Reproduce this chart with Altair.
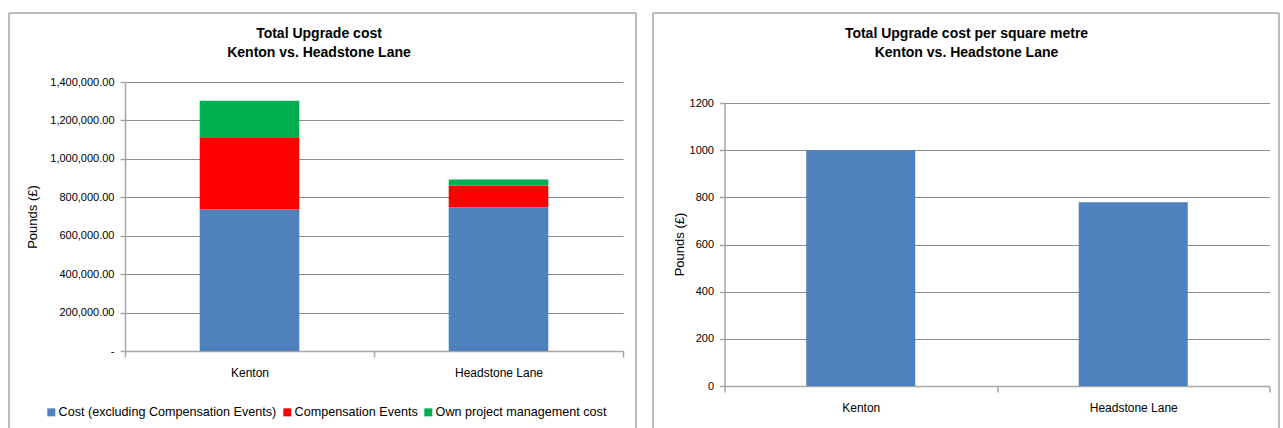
import altair as alt
import pandas as pd

# ---- data ----
sites = ["Kenton", "Headstone Lane"]
series_names = ["Cost (excluding Compensation Events)", "Compensation Events", "Own project management cost"]
cost_excl = [736000, 748000]
comp_events = [377000, 113000]
own_pm = [190000, 31000]
per_sqm = [1000, 779]

series_colors = ["#4F81BD", "#FF0000", "#00B050"]

FONT = "Liberation Sans"
GRID = "#8C8C8C"
AXIS = "#A6A6A6"
BORDER = "#A6A6A6"

rows = []
for i, s in enumerate(sites):
    for name, vals in zip(series_names, [cost_excl, comp_events, own_pm]):
        rows.append({"site": s, "series": name, "value": vals[i], "order": series_names.index(name)})
stack_df = pd.DataFrame(rows)
sqm_df = pd.DataFrame({"site": sites, "value": per_sqm})
one = pd.DataFrame({"k": [0]})


def frame(x0, x1, y0, y1):
    """Three-sided light-grey frame around a panel (bottom is off-page)."""
    base = alt.Chart(one)
    left = base.mark_rule(color=BORDER, strokeWidth=1.5).encode(x=alt.value(x0), y=alt.value(y0), y2=alt.value(y1))
    right = base.mark_rule(color=BORDER, strokeWidth=1.5).encode(x=alt.value(x1), y=alt.value(y0), y2=alt.value(y1))
    top = base.mark_rule(color=BORDER, strokeWidth=1.5).encode(x=alt.value(x0), x2=alt.value(x1), y=alt.value(y0))
    return [left, right, top]


def title_lines(cx, lines, y0):
    out = []
    for j, t in enumerate(lines):
        out.append(
            alt.Chart(one).mark_text(text=t, font=FONT, fontSize=14, fontWeight="bold",
                                     color="#000000", align="center", baseline="middle")
            .encode(x=alt.value(cx), y=alt.value(y0 + 19 * j))
        )
    return out


def x_axis():
    return alt.Axis(labelAngle=0, labelFont=FONT, labelFontSize=12, labelColor="#000000",
                    labelPadding=10, tickBand="extent", tickColor=AXIS, tickSize=6,
                    domainColor=AXIS, domainWidth=1.5, tickWidth=1.5, grid=False)


# ---- left panel ----
LW, LH = 498, 269
xl = alt.X("site:N", sort=sites, title=None,
           scale=alt.Scale(paddingInner=0, paddingOuter=0), axis=x_axis())
yl = alt.Y("sum(value):Q", title="Pounds (£)",
           scale=alt.Scale(domain=[0, 1400000], nice=False),
           axis=alt.Axis(values=[0, 200000, 400000, 600000, 800000, 1000000, 1200000, 1400000],
                         labelExpr="datum.value == 0 ? '-    ' : format(datum.value, ',.2f')",
                         labelFont=FONT, labelFontSize=11, labelColor="#000000", labelPadding=6,
                         tickColor=AXIS, tickSize=5, tickWidth=1.5, domainColor=AXIS, domainWidth=1.5,
                         gridColor=GRID, gridWidth=1,
                         titleFont=FONT, titleFontSize=13, titleFontWeight="normal",
                         titleColor="#000000", titleX=-93, titleY=LH / 2, titleAngle=270,
                         titleAlign="center", titleBaseline="middle"))

bars_left = alt.Chart(stack_df).mark_bar(width=alt.RelativeBandSize(0.4)).encode(
    x=xl,
    y=yl,
    color=alt.Color("series:N", sort=series_names,
                    scale=alt.Scale(domain=series_names, range=series_colors),
                    legend=alt.Legend(title=None, orient="none", direction="horizontal",
                                      legendX=-80, legendY=324, symbolType="square",
                                      symbolSize=64, symbolStrokeWidth=0, labelFont=FONT,
                                      labelFontSize=12.6, labelColor="#000000", columnPadding=4,
                                      symbolOffset=0, labelOffset=1, labelLimit=0)),
    order=alt.Order("order:Q", sort="ascending"),
)

left = alt.layer(
    *frame(-116, 511, -69, 346),
    *title_lines(194, ["Total  Upgrade cost", "Kenton vs. Headstone Lane"], -48),
    bars_left,
).properties(width=LW, height=LH)

# ---- right panel ----
RW, RH = 545, 304
xr = alt.X("site:N", sort=sites, title=None,
           scale=alt.Scale(paddingInner=0, paddingOuter=0), axis=x_axis())
yr = alt.Y("value:Q", title="Pounds (£)",
           scale=alt.Scale(domain=[0, 1200], range=[RH, 21], nice=False),
           axis=alt.Axis(values=[0, 200, 400, 600, 800, 1000, 1200], format="d",
                         labelFont=FONT, labelFontSize=11, labelColor="#000000", labelPadding=6,
                         tickColor=AXIS, tickSize=5, tickWidth=1.5, domainColor=AXIS, domainWidth=1.5,
                         gridColor=GRID, gridWidth=1,
                         titleFont=FONT, titleFontSize=13, titleFontWeight="normal",
                         titleColor="#000000", titleX=-45, titleY=162, titleAngle=270,
                         titleAlign="center", titleBaseline="middle"))

bars_right = alt.Chart(sqm_df).mark_bar(width=alt.RelativeBandSize(0.4), color="#4F81BD").encode(
    x=xr, y=yr
)

right = alt.layer(
    *frame(-71.5, 554.5, -69, 346),
    *title_lines(242, ["Total  Upgrade cost per square metre", "Kenton vs. Headstone Lane"], -48),
    bars_right,
).properties(width=RW, height=RH)

chart = alt.hconcat(left, right, spacing=101.5, bounds="flush").properties(
    padding={"left": 8, "top": 12, "right": 0, "bottom": 0},
    background="#FFFFFF",
).configure_view(stroke=None)

chart.save("out.html", embed_options={"renderer": "svg", "actions": False})
